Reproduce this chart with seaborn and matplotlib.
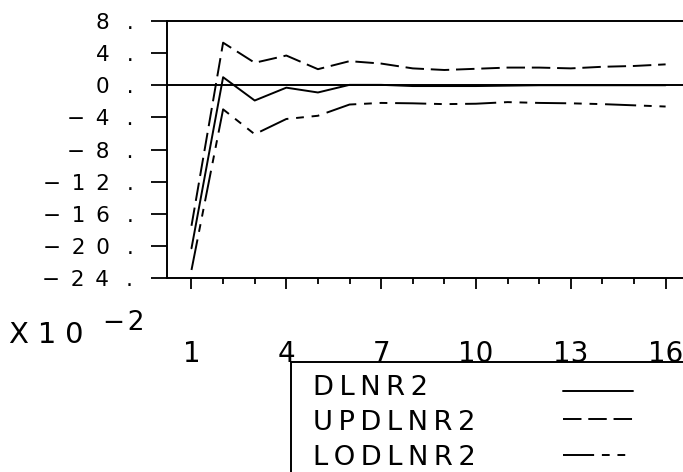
import matplotlib
matplotlib.use("Agg")
import matplotlib.pyplot as plt
import pandas as pd
import seaborn as sns
from matplotlib.lines import Line2D
from matplotlib.patches import Rectangle
from matplotlib.ticker import FixedLocator

# Impulse response of DLNR2 with upper / lower bands (units of 10^-2)
horizon = list(range(1, 17))
dlnr2 = [-20.3, 1.0, -1.9, -0.3, -0.9, 0.05, 0.05, -0.1, -0.1, -0.1, -0.05, 0.0, 0.0, 0.0, 0.0, 0.0]
updlnr2 = [-17.5, 5.3, 2.8, 3.7, 2.0, 3.0, 2.7, 2.1, 1.9, 2.05, 2.2, 2.2, 2.1, 2.3, 2.4, 2.6]
lodlnr2 = [-23.0, -3.0, -6.1, -4.2, -3.8, -2.4, -2.2, -2.25, -2.35, -2.3, -2.1, -2.2, -2.25, -2.35, -2.5, -2.65]
series_names = ["DLNR2", "UPDLNR2", "LODLNR2"]
y_ticks = [-24, -20, -16, -12, -8, -4, 0, 4, 8]
x_major = [1, 4, 7, 10, 13, 16]
scale_label = ("X10", "-2")

sns.set_style("white")
plt.rcParams.update({
    "font.family": ["DejaVu Sans"],
    "text.color": "black",
    "axes.labelcolor": "black",
    "xtick.color": "black",
    "ytick.color": "black",
    "axes.edgecolor": "black",
})

W, H = 683, 472
LW = 1.4
dash_map = {
    "DLNR2": "",
    "UPDLNR2": (9.5, 3.5),
    "LODLNR2": (16, 4, 4, 4, 4, 4),
}

EN, THIN, HAIR = "\u2002", "\u2009", "\u200a"


def spaced(s, sep):
    return sep.join(s)


def ytick_text(v):
    body = spaced(str(abs(v)), EN)
    if v < 0:
        body = "\u2212" + EN + body
    return body + EN + THIN + HAIR + "."


df = pd.DataFrame({
    "h": horizon * 3,
    "value": dlnr2 + updlnr2 + lodlnr2,
    "series": [n for n in series_names for _ in horizon],
})

fig = plt.figure(figsize=(W / 100, H / 100), dpi=100)
ax = fig.add_axes([167 / W, (H - 278) / H, (W - 167) / W, (278 - 21) / H])

sns.lineplot(data=df, x="h", y="value", style="series", dashes=dash_map,
             color="black", linewidth=LW, legend=False, estimator=None,
             sort=False, ax=ax)
ax.axhline(0, color="black", linewidth=LW)

ax.set_xlim(0.225, 16.55)
ax.set_ylim(-24, 8)
ax.set_xlabel("")
ax.set_ylabel("")

for side in ["left", "top", "bottom"]:
    ax.spines[side].set_visible(True)
    ax.spines[side].set_color("black")
    ax.spines[side].set_linewidth(1.4)
ax.spines["right"].set_visible(False)

ax.yaxis.set_major_locator(FixedLocator(y_ticks))
ax.set_yticklabels([ytick_text(v) for v in y_ticks])
ax.xaxis.set_major_locator(FixedLocator(x_major))
ax.xaxis.set_minor_locator(FixedLocator(horizon))
ax.set_xticklabels([str(v) for v in x_major])

ax.tick_params(axis="y", which="major", direction="out", length=11.5, width=1.3,
               pad=12.7, labelsize=15.5, colors="black", left=True)
ax.tick_params(axis="x", which="major", direction="out", length=8, width=1.3,
               pad=36.7, labelsize=20, colors="black", bottom=True)
ax.tick_params(axis="x", which="minor", direction="out", length=4.3, width=1.3,
               colors="black", bottom=True)

# scale factor of the value axis
fig.text(9 / W, 1 - 343 / H, spaced(scale_label[0], THIN + HAIR), fontsize=21,
         va="baseline", ha="left", color="black")
fig.text(103 / W, 1 - 330 / H, scale_label[1].replace("-", "\u2212" + HAIR),
         fontsize=19, va="baseline", ha="left", color="black")

# key box below the axis
fig.add_artist(Rectangle((290.7 / W, -0.05), 0.7, (H - 362) / H + 0.05,
                         transform=fig.transFigure, fill=False,
                         edgecolor="black", linewidth=1.4, clip_on=False))
key_rows = [(395, 391), (430, 419), (465, 455)]
for name, (base_y, line_y) in zip(series_names, key_rows):
    fig.text(313 / W, 1 - base_y / H, spaced(name, THIN), fontsize=19.7,
             va="baseline", ha="left", color="black")
    d = dash_map[name]
    ls = "-" if not d else (0, d)
    fig.add_artist(Line2D([563 / W, 633 / W], [1 - line_y / H] * 2,
                          transform=fig.transFigure, color="black",
                          linewidth=LW, linestyle=ls))

fig.savefig("out.png", dpi=100)
